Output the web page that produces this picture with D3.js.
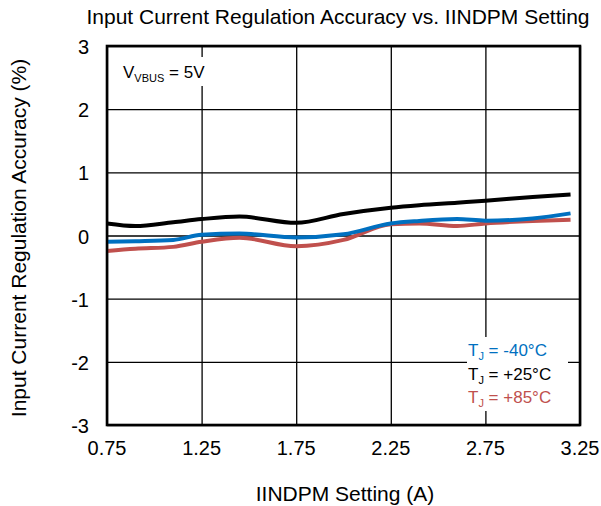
<!DOCTYPE html>
<html>
<head>
<meta charset="utf-8">
<script src="https://cdn.jsdelivr.net/npm/d3@7"></script>
<style>
  body { margin: 0; background: #fff; }
  svg text { font-family: "Liberation Sans", Arial, sans-serif; fill: #000; }
</style>
</head>
<body>
<svg width="601" height="506"></svg>
<script>
// IINDPM setting (A)
const iindpm = [0.75, 0.9, 1.1, 1.25, 1.45, 1.75, 2.0, 2.25, 2.4, 2.6, 2.75, 3.0, 3.2];
// accuracy (%) per junction temperature
const accMinus40 = [-0.10, -0.09, -0.07, 0.01, 0.03, -0.03, 0.02, 0.19, 0.23, 0.26, 0.235, 0.27, 0.35];
const accPlus25  = [0.19, 0.15, 0.21, 0.26, 0.30, 0.20, 0.34, 0.44, 0.48, 0.52, 0.55, 0.61, 0.65];
const accPlus85  = [-0.245, -0.21, -0.18, -0.10, -0.035, -0.17, -0.07, 0.18, 0.19, 0.15, 0.19, 0.23, 0.25];

const xTicks = [0.75, 1.25, 1.75, 2.25, 2.75, 3.25];
const yTicks = [-3, -2, -1, 0, 1, 2, 3];

const seriesNames = ["-40°C", "+25°C", "+85°C"];
const seriesColors = ["#0070C0", "#000000", "#C0504D"];

drawChart();

function drawChart(){
    const svg = d3.select("svg");
    const left = 107, right = 580, top = 46, bottom = 425;

    const x = d3.scaleLinear().domain([0.75, 3.25]).range([left, right]);
    const y = d3.scaleLinear().domain([-3, 3]).range([bottom, top]);

    // grid lines
    svg.append("g")
        .attr("transform", `translate(0, ${bottom})`)
        .call(d3.axisBottom(x).tickValues(xTicks).tickSize(-(bottom - top)).tickFormat(""))
        .call(g => g.select(".domain").remove())
        .selectAll("line").attr("stroke", "#000").attr("stroke-width", 1.3);

    svg.append("g")
        .attr("transform", `translate(${left}, 0)`)
        .call(d3.axisLeft(y).tickValues(yTicks).tickSize(-(right - left)).tickFormat(""))
        .call(g => g.select(".domain").remove())
        .selectAll("line").attr("stroke", "#000").attr("stroke-width", 1.3);

    // tick labels
    svg.append("g").selectAll("text")
        .data(xTicks)
        .enter()
        .append("text")
        .attr("x", d => x(d))
        .attr("y", 455)
        .attr("text-anchor", "middle")
        .style("font-size", "20px")
        .text(d => d.toFixed(2));

    svg.append("g").selectAll("text")
        .data(yTicks)
        .enter()
        .append("text")
        .attr("x", 89)
        .attr("y", d => y(d) + 8)
        .attr("text-anchor", "end")
        .style("font-size", "20px")
        .text(d => d);

    // white boxes behind annotations
    svg.append("rect").attr("x", 118).attr("y", 57).attr("width", 92).attr("height", 29).attr("fill", "#fff");
    svg.append("rect").attr("x", 467).attr("y", 337).attr("width", 101).attr("height", 74).attr("fill", "#fff");

    // data lines
    const allSeries = [accMinus40, accPlus25, accPlus85];
    const line = d3.line()
                    .x((d, i) => x(iindpm[i]))
                    .y(d => y(d))
                    .curve(d3.curveMonotoneX);

    svg.append("g").selectAll("path")
        .data([accPlus85, accMinus40, accPlus25])
        .enter()
        .append("path")
        .attr("d", d => line(d))
        .attr("fill", "none")
        .attr("stroke", d => seriesColors[allSeries.indexOf(d)])
        .attr("stroke-width", 4)
        .attr("stroke-linejoin", "round");

    // frame
    svg.append("rect")
        .attr("x", left).attr("y", top)
        .attr("width", right - left).attr("height", bottom - top)
        .attr("fill", "none").attr("stroke", "#000").attr("stroke-width", 2.6);

    // title
    svg.append("text")
        .attr("x", 338)
        .attr("y", 24)
        .attr("text-anchor", "middle")
        .style("font-size", "21px")
        .text("Input Current Regulation Accuracy vs. IINDPM Setting");

    // axis titles
    svg.append("text")
        .attr("x", 345)
        .attr("y", 501)
        .attr("text-anchor", "middle")
        .style("font-size", "21px")
        .text("IINDPM Setting (A)");

    svg.append("text")
        .attr("transform", "rotate(-90)")
        .attr("x", -238)
        .attr("y", 26)
        .attr("text-anchor", "middle")
        .style("font-size", "21px")
        .text("Input Current Regulation Accuracy (%)");

    // VBUS note
    const vb = svg.append("text").attr("x", 123).attr("y", 78).style("font-size", "17px");
    vb.append("tspan").text("V");
    vb.append("tspan").attr("dy", 4).style("font-size", "11px").text("VBUS");
    vb.append("tspan").attr("dy", -4).text(" = 5V");

    // legend
    const leg = svg.append("g").selectAll("text")
        .data(seriesNames)
        .enter()
        .append("text")
        .attr("x", 468)
        .attr("y", (d, i) => 356 + i * 23.5)
        .style("font-size", "17px")
        .style("fill", (d, i) => seriesColors[i]);
    leg.append("tspan").text("T");
    leg.append("tspan").attr("dy", 4).style("font-size", "11px").text("J");
    leg.append("tspan").attr("dy", -4).text(d => " = " + d);
}
</script>
</body>
</html>
